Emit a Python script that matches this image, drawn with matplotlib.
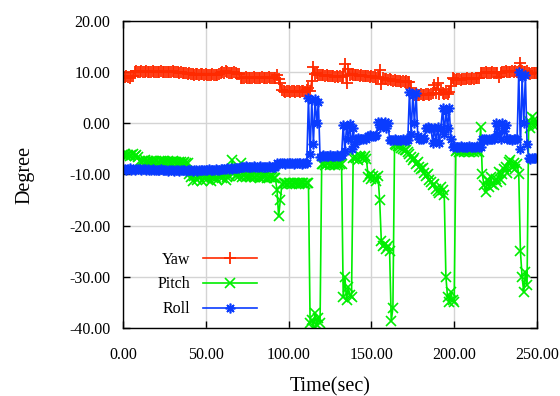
import numpy as np
import matplotlib
matplotlib.use("Agg")
from matplotlib import pyplot as plt

plt.rcParams['font.family'] = ['Liberation Serif', 'DejaVu Serif']

# one sample per second, 0 .. 250 s
time = np.arange(0, 251)

yaw = [
    9.1, 9.0, 9.2, 9.1, 8.9, 9.2, 9.3, 10.0, 10.2, 10.1,
    10.1, 10.2, 10.0, 10.1, 10.2, 10.1, 10.1, 10.0, 10.2, 10.1,
    10.1, 10.0, 10.1, 10.2, 10.1, 10.0, 10.1, 10.1, 10.0, 10.1,
    10.2, 10.0, 10.0, 10.1, 9.9, 10.0, 9.9, 9.8, 9.9, 9.7,
    9.8, 9.6, 9.7, 9.5, 9.6, 9.6, 9.5, 9.7, 9.6, 9.5,
    9.6, 9.5, 9.4, 9.5, 9.6, 9.5, 9.4, 9.5, 9.6, 9.8,
    10.0, 9.9, 10.3, 10.1, 9.9, 9.8, 9.9, 10.0, 9.8, 9.7,
    9.6, 8.9, 8.8, 8.9, 9.0, 8.9, 8.8, 8.9, 8.9, 9.0,
    8.9, 8.8, 8.9, 8.9, 9.0, 8.9, 8.8, 8.9, 9.0, 8.9,
    8.9, 8.8, 8.9, 9.4, 8.6, 7.8, 6.5, 6.3, 6.2, 6.4,
    6.3, 6.2, 6.3, 6.4, 6.2, 6.3, 6.3, 6.2, 6.4, 6.3,
    6.2, 6.5, 7.0, 6.4, 8.2, 11.0, 9.6, 9.8, 9.5, 9.4,
    9.5, 9.4, 9.3, 9.4, 9.3, 9.2, 9.3, 9.2, 9.1, 9.2,
    9.1, 9.2, 9.1, 9.3, 11.6, 7.8, 10.6, 9.5, 9.6, 9.5,
    9.4, 9.5, 9.4, 9.3, 9.4, 9.3, 9.2, 9.3, 9.2, 9.1,
    9.2, 9.0, 9.1, 8.9, 9.0, 10.4, 7.6, 8.8, 8.7, 8.6,
    8.5, 8.6, 8.4, 8.3, 8.4, 8.3, 8.2, 8.3, 8.1, 8.2,
    8.1, 8.2, 8.0, 8.1, 7.0, 5.6, 5.5, 5.7, 5.6, 5.5,
    5.7, 5.6, 5.5, 5.8, 5.7, 5.6, 5.8, 5.9, 7.5, 6.0,
    7.9, 5.8, 6.6, 5.9, 5.7, 6.0, 5.8, 6.2, 7.2, 8.9,
    8.6, 8.5, 8.6, 8.7, 8.5, 8.6, 8.7, 8.6, 8.8, 8.7,
    8.6, 8.8, 8.7, 8.9, 8.8, 8.9, 9.8, 9.9, 9.8, 10.0,
    9.9, 9.8, 9.9, 10.0, 9.9, 9.8, 9.9, 9.0, 9.9, 10.0,
    10.1, 10.2, 10.1, 10.0, 10.1, 10.2, 10.1, 10.2, 10.1, 10.3,
    11.8, 10.2, 10.0, 10.1, 10.2, 9.8, 9.7, 9.9, 9.8, 9.9,
    9.8,
]

pitch = [
    -6.2, -6.0, -6.3, -6.1, -6.4, -6.2, -6.0, -6.3, -6.2, -6.5,
    -7.3, -7.5, -7.4, -7.2, -7.5, -7.4, -7.6, -7.3, -7.4, -7.5,
    -7.4, -7.6, -7.5, -7.3, -7.4, -7.6, -7.5, -7.4, -7.6, -7.5,
    -7.4, -7.6, -7.5, -7.7, -7.5, -7.6, -7.8, -7.6, -7.7, -7.8,
    -10.0, -10.5, -11.2, -10.3, -9.8, -11.0, -10.4, -10.1, -11.3, -10.6,
    -10.2, -10.8, -10.0, -11.2, -10.5, -9.9, -10.7, -11.0, -10.3, -10.1,
    -10.6, -10.0, -11.1, -10.4, -10.2, -9.5, -7.2, -9.8, -10.3, -10.0,
    -10.2, -7.8, -10.4, -10.1, -10.5, -10.3, -10.2, -10.4, -10.3, -10.5,
    -10.4, -10.3, -10.5, -10.6, -10.4, -10.5, -10.3, -10.6, -10.5, -10.4,
    -10.5, -10.6, -10.7, -13.0, -18.2, -15.0, -11.8, -11.6, -11.7, -11.8,
    -11.7, -11.6, -11.8, -11.7, -11.6, -11.7, -11.8, -11.7, -11.6, -11.7,
    -11.8, -11.7, -11.6, -39.0, -38.5, -40.0, -37.0, -39.5, -38.0, -39.0,
    -8.0, -7.9, -8.1, -8.0, -7.8, -8.1, -8.0, -7.9, -8.2, -8.0,
    -8.1, -7.9, -8.0, -34.0, -30.0, -34.5, -32.0, -33.5, -34.0, -6.8,
    -6.5, -6.8, -7.2, -6.3, -6.6, -7.0, -6.4, -6.9, -10.4, -10.0,
    -10.8, -10.2, -10.6, -11.2, -10.3, -15.0, -23.0, -24.0, -23.5, -24.5,
    -24.0, -25.0, -38.7, -36.0, -4.0, -4.2, -4.5, -4.4, -4.8, -5.0,
    -5.3, -5.2, -5.6, -6.0, -6.5, -7.2, -6.8, -8.0, -7.5, -8.5,
    -9.0, -8.7, -9.8, -10.2, -10.0, -11.0, -11.5, -12.0, -11.8, -12.8,
    -13.2, -13.6, -12.5, -13.0, -14.0, -30.0, -34.0, -35.0, -33.0, -34.5,
    -35.0, -5.5, -5.3, -5.6, -5.4, -5.5, -5.7, -5.4, -5.5, -5.6,
    -5.3, -5.5, -5.6, -5.4, -5.5, -5.6, -0.8, -10.0, -12.0, -13.5,
    -11.0, -12.5, -10.5, -11.8, -12.0, -10.8, -11.5, -9.5, -11.0, -10.0,
    -9.0, -8.5, -9.8, -7.5, -7.2, -8.6, -7.8, -9.0, -8.0, -10.0,
    -25.0, -30.0, -33.0, -29.0, -31.5, 0.5, -1.0, 1.2, -0.5, 0.8,
    -0.3,
]

roll = [
    -9.0, -8.9, -9.1, -9.0, -8.8, -9.1, -9.0, -9.2, -9.0, -8.9,
    -9.0, -9.1, -9.0, -8.9, -9.1, -9.0, -9.2, -9.1, -9.0, -9.1,
    -9.1, -9.2, -9.1, -9.0, -9.2, -9.1, -9.2, -9.3, -9.1, -9.2,
    -9.2, -9.3, -9.1, -9.2, -9.3, -9.2, -9.1, -9.2, -9.3, -9.2,
    -9.2, -9.1, -9.3, -9.2, -9.2, -9.3, -9.1, -9.2, -9.2, -9.1,
    -9.1, -9.2, -9.0, -9.1, -9.2, -9.1, -9.0, -9.1, -9.1, -9.0,
    -9.0, -8.9, -9.0, -8.8, -8.9, -8.8, -8.9, -8.8, -8.7, -8.8,
    -8.7, -8.5, -8.6, -8.5, -8.4, -8.5, -8.6, -8.5, -8.5, -8.4,
    -8.5, -8.6, -8.5, -8.4, -8.5, -8.5, -8.6, -8.5, -8.4, -8.5,
    -8.5, -8.6, -8.5, -7.8, -7.9, -7.8, -7.7, -7.8, -7.9, -7.8,
    -7.8, -7.7, -7.8, -7.9, -7.8, -7.8, -7.7, -7.8, -7.9, -7.8,
    -7.8, -7.7, 4.9, -6.0, 4.5, -4.0, 4.8, 0.0, 4.2, -6.5,
    -6.3, -6.2, -6.3, -6.4, -6.3, -6.2, -6.3, -6.3, -6.4, -6.2,
    -6.3, -6.3, -6.2, -0.3, -5.5, -0.5, -3.0, -0.2, -5.0, -1.0,
    -4.0, -3.0, -2.9, -3.0, -3.1, -3.0, -2.9, -3.0, -2.4, -2.3,
    -2.4, -2.5, -2.4, -2.3, 0.3, -0.8, 0.2, -0.5, 0.3, -0.9,
    0.1, -3.2, -3.3, -3.2, -3.1, -3.2, -3.3, -3.2, -3.2, -3.1,
    -3.2, -3.3, -3.2, 6.2, -2.0, 5.5, 0.0, 6.0, -2.5, -3.0,
    -3.1, -3.0, -2.9, -0.9, -0.8, -1.0, -0.9, -3.8, -1.0, -3.5,
    -0.8, -3.9, -0.9, 3.0, -2.0, 2.5, -1.0, 3.0, -3.0, -4.6,
    -4.5, -4.6, -4.7, -4.6, -4.5, -4.6, -4.6, -4.7, -4.6, -4.5,
    -4.6, -4.6, -4.7, -4.6, -4.5, -4.6, -4.6, -3.1, -3.0, -3.1,
    -3.2, -3.1, -3.0, -3.1, -3.1, 0.0, -2.0, -0.2, -3.0, 0.0,
    -1.5, -0.3, -3.1, -3.0, -3.1, -3.2, -3.1, -3.0, -3.1, 10.0,
    -5.0, 9.0, 0.0, 9.5, -4.0, -6.8, -6.9, -6.8, -6.7, -6.8,
    -6.8,
]

xticks = [0, 50, 100, 150, 200, 250]
yticks = [-40, -30, -20, -10, 0, 10, 20]

fig = plt.figure(figsize=(5.6, 3.96), dpi=100)
ax = fig.add_axes([0.2196, 0.1717, 0.7393, 0.7753])

ax.plot(time, yaw, '-', color='#ff2a00', lw=1.2, marker='+', ms=8, mew=1.3, label='Yaw')
ax.plot(time, pitch, '-', color='#00ee00', lw=1.2, marker='x', ms=6.5, mew=1.2, label='Pitch')
ax.plot(time, roll, '-', color='#0a3cff', lw=1.2, marker=(8, 2, 0), ms=7, mew=1.2, label='Roll')

ax.set_xlim(0, 250)
ax.set_ylim(-40, 20)
ax.set_xticks(xticks)
ax.set_yticks(yticks)
ax.set_xticklabels(['%.2f' % v for v in xticks])
ax.set_yticklabels(['%.2f' % v for v in yticks])
ax.tick_params(direction='in', top=True, right=True, length=5, width=1,
               labelsize=11.5)
ax.tick_params(axis='x', pad=14)
ax.tick_params(axis='y', pad=9)
ax.grid(True, color='#d4d4d4', lw=1)
ax.set_axisbelow(True)
for s in ax.spines.values():
    s.set_linewidth(1)

ax.set_xlabel('Time(sec)', fontsize=14.5)
ax.set_ylabel('Degree', fontsize=14.5)
ax.xaxis.set_label_coords(0.5, -0.16)
ax.yaxis.set_label_coords(-0.215, 0.5)

ax.legend(loc='lower right', bbox_to_anchor=(0.324, 0.035), frameon=False,
          markerfirst=False, numpoints=1, fontsize=11.5, handlelength=3.4,
          handletextpad=0.8, labelspacing=0.55, borderpad=0, borderaxespad=0)

fig.savefig('out.png', dpi=100)
